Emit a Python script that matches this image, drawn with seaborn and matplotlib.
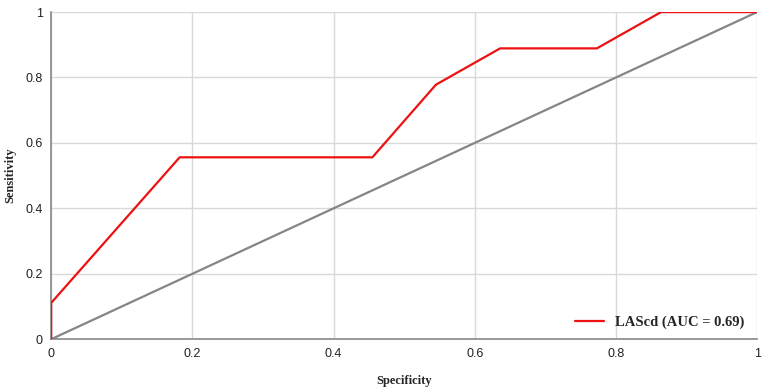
import numpy as np
import pandas as pd
import matplotlib
matplotlib.use("Agg")
import matplotlib.pyplot as plt
import seaborn as sns

# ROC points
fpr = [0.0, 0.0, 0.182, 0.455, 0.545, 0.636, 0.773, 0.864, 1.0]
tpr = [0.0, 0.111, 0.556, 0.556, 0.778, 0.889, 0.889, 1.0, 1.0]
ref_x = [0.0, 1.0]
ref_y = [0.0, 1.0]
ticks = [0, 0.2, 0.4, 0.6, 0.8, 1]
tick_labels = ["0", "0.2", "0.4", "0.6", "0.8", "1"]
series_label = "LAScd (AUC = 0.69)"

sns.set_style("white")
plt.rcParams['font.family'] = ['Liberation Sans', 'DejaVu Sans']

fig, ax = plt.subplots(figsize=(7.64, 3.89), dpi=100)
fig.subplots_adjust(left=0.067, right=0.991, top=0.969, bottom=0.128)

roc = pd.DataFrame({"fpr": fpr, "tpr": tpr})
diag = pd.DataFrame({"x": ref_x, "y": ref_y})

sns.lineplot(data=diag, x="x", y="y", color="#858585", linewidth=1.6,
             ax=ax, sort=False, estimator=None, zorder=2)
sns.lineplot(data=roc, x="fpr", y="tpr", color="#ee1111", linewidth=1.6,
             ax=ax, sort=False, estimator=None, label=series_label, zorder=3)

ax.set_xlim(0, 1)
ax.set_ylim(0, 1)
ax.set_xticks(ticks)
ax.set_xticklabels(tick_labels)
ax.set_yticks(ticks)
ax.set_yticklabels(tick_labels)
ax.tick_params(axis="both", length=0, labelsize=9, colors="#222222", pad=6)
ax.grid(True, color="#d9d9d9", linewidth=1)
ax.set_axisbelow(True)

for side in ["top", "right"]:
    ax.spines[side].set_visible(False)
for side in ["left", "bottom"]:
    ax.spines[side].set_color("#888888")
    ax.spines[side].set_linewidth(1.2)
    ax.spines[side].set_zorder(1)

label_font = dict(family=["Liberation Serif", "DejaVu Serif"], fontweight="bold", fontsize=9)
ax.set_xlabel("Specificity", **label_font)
ax.set_ylabel("Sensitivity", **label_font)
ax.xaxis.set_label_coords(0.5, -0.108)
ax.yaxis.set_label_coords(-0.05, 0.5)

leg = ax.legend(loc="lower right", frameon=False, handlelength=2.0,
                handletextpad=0.7,
                prop={"family": "Liberation Serif", "weight": "bold", "size": 10.5},
                bbox_to_anchor=(1.0, -0.01))

plt.savefig("out.png", dpi=100)
